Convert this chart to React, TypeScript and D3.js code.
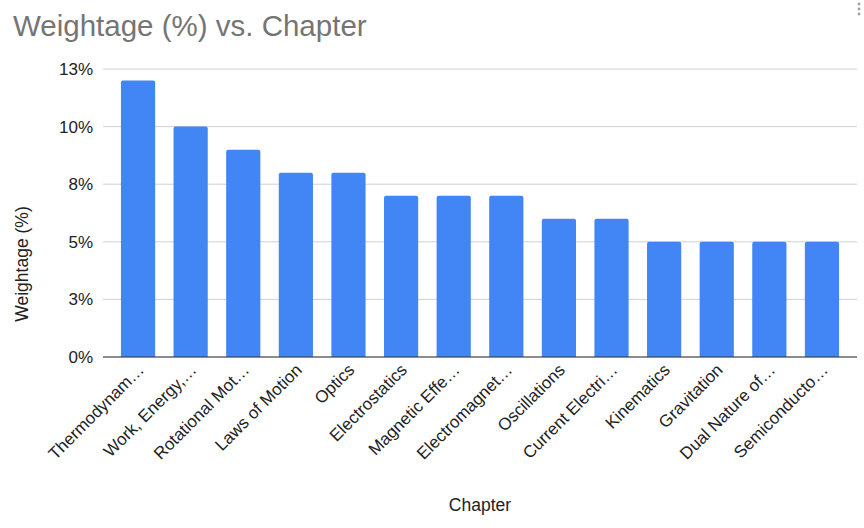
import * as d3 from "d3";

const chapters = [
  "Thermodynam…",
  "Work, Energy,…",
  "Rotational Mot…",
  "Laws of Motion",
  "Optics",
  "Electrostatics",
  "Magnetic Effe…",
  "Electromagnet…",
  "Oscillations",
  "Current Electri…",
  "Kinematics",
  "Gravitation",
  "Dual Nature of…",
  "Semiconducto…",
];
const weightage = [12, 10, 9, 8, 8, 7, 7, 7, 6, 6, 5, 5, 5, 5];
const yTicks = [0, 2.5, 5, 7.5, 10, 12.5];

const W = 864;
const H = 528;
const FONT = "'Liberation Sans', Arial, sans-serif";

export default function App() {
  const plot = { left: 103, right: 857, top: 69, bottom: 357 };

  const x = d3
    .scaleBand<string>()
    .domain(chapters)
    .range([112, 848])
    .paddingInner(0.35)
    .paddingOuter(0.17);

  const y = d3.scaleLinear().domain([0, 12.5]).range([plot.bottom, plot.top]);

  const bw = x.bandwidth();

  return (
    <svg
      width={W}
      height={H}
      style={{ position: "absolute", left: 0, top: 0, background: "#fff" }}
      fontFamily={FONT}
    >
      <text x={13} y={36} fontSize={29.5} fill="#757575">
        Weightage (%) vs. Chapter
      </text>

      {/* menu dots */}
      {[4, 9, 14].map(cy => (
        <circle key={cy} cx={859} cy={cy} r={1.4} fill="#9e9e9e" />
      ))}

      {/* gridlines */}
      {yTicks.map(t => (
        <line
          key={t}
          x1={plot.left}
          x2={plot.right}
          y1={y(t)}
          y2={y(t)}
          stroke="#d0d0d0"
          strokeWidth={1}
        />
      ))}

      {/* y tick labels */}
      {yTicks.map(t => (
        <text
          key={"l" + t}
          x={93}
          y={y(t) + 6}
          textAnchor="end"
          fontSize={17}
          fill="#222"
        >
          {Math.round(t)}%
        </text>
      ))}

      {/* bars */}
      {chapters.map((c, i) => {
        const x0 = x(c)!;
        const top = y(weightage[i]);
        const r = 2;
        const path = `M${x0},${plot.bottom} V${top + r} Q${x0},${top} ${x0 + r},${top} H${x0 + bw - r} Q${x0 + bw},${top} ${x0 + bw},${top + r} V${plot.bottom} Z`;
        return <path key={c} d={path} fill="#4285f4" />;
      })}

      {/* baseline */}
      <line
        x1={plot.left}
        x2={plot.right}
        y1={plot.bottom}
        y2={plot.bottom}
        stroke="#333"
        strokeWidth={1.2}
      />

      {/* x labels */}
      {chapters.map(c => {
        const cx = x(c)! + bw / 2 + 7;
        const cy = plot.bottom + 14;
        return (
          <text
            key={"x" + c}
            transform={`translate(${cx},${cy}) rotate(-45)`}
            textAnchor="end"
            fontSize={17}
            fill="#222"
          >
            {c}
          </text>
        );
      })}

      {/* axis titles */}
      <text
        transform={`translate(${28},${264}) rotate(-90)`}
        textAnchor="middle"
        fontSize={17.5}
        fill="#222"
      >
        Weightage (%)
      </text>
      <text x={480} y={511} textAnchor="middle" fontSize={17.5} fill="#222">
        Chapter
      </text>
    </svg>
  );
}
